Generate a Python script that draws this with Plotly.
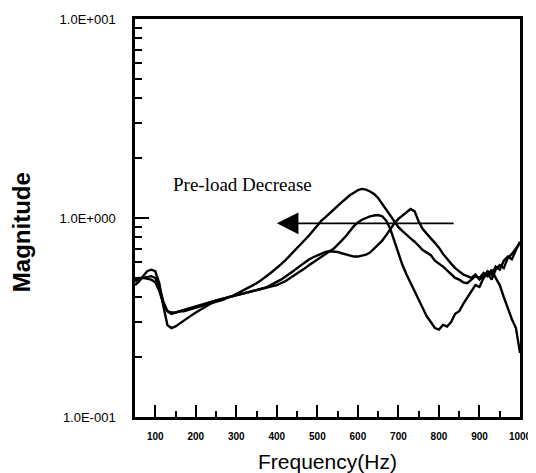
import math
import plotly.graph_objects as go

# Frequency grid (Hz)
freq = list(range(50, 1001, 10))

# Curve with highest peak (~610 Hz)
mag_a = [0.49, 0.50, 0.50, 0.505, 0.51, 0.50, 0.45, 0.38, 0.34, 0.33,
         0.335, 0.34, 0.34, 0.345, 0.35, 0.355, 0.36, 0.365, 0.37, 0.375,
         0.38, 0.385, 0.39, 0.40, 0.405, 0.415, 0.425, 0.435, 0.445, 0.455,
         0.47, 0.485, 0.50, 0.52, 0.54, 0.56, 0.585, 0.61, 0.64, 0.67,
         0.70, 0.74, 0.78, 0.82, 0.87, 0.92, 0.97, 1.01, 1.06, 1.10,
         1.15, 1.20, 1.25, 1.30, 1.34, 1.38, 1.40, 1.39, 1.36, 1.32,
         1.26, 1.18, 1.11, 1.04, 0.97, 0.90, 0.86, 0.82, 0.79, 0.76,
         0.72, 0.69, 0.67, 0.65, 0.61, 0.59, 0.57, 0.545, 0.52, 0.50,
         0.49, 0.475, 0.47, 0.49, 0.51, 0.50, 0.53, 0.51, 0.55, 0.50,
         0.46, 0.40, 0.35, 0.31, 0.28, 0.21]

# Curve with middle peak (~650 Hz), deep minimum near 800 Hz
mag_b = [0.48, 0.495, 0.50, 0.495, 0.49, 0.475, 0.43, 0.37, 0.34, 0.335,
         0.335, 0.34, 0.345, 0.35, 0.355, 0.36, 0.365, 0.37, 0.375, 0.38,
         0.385, 0.39, 0.395, 0.40, 0.405, 0.41, 0.415, 0.42, 0.425, 0.43,
         0.435, 0.44, 0.445, 0.45, 0.455, 0.46, 0.47, 0.48, 0.495, 0.51,
         0.525, 0.54, 0.56, 0.58, 0.60, 0.62, 0.64, 0.66, 0.68, 0.70,
         0.73, 0.77, 0.81, 0.86, 0.91, 0.95, 0.98, 1.00, 1.02, 1.03,
         1.035, 1.02, 0.97, 0.88, 0.76, 0.66, 0.58, 0.52, 0.47, 0.43,
         0.39, 0.35, 0.32, 0.30, 0.28, 0.275, 0.29, 0.285, 0.30, 0.33,
         0.34, 0.37, 0.40, 0.43, 0.46, 0.45, 0.50, 0.53, 0.49, 0.55,
         0.58, 0.56, 0.63, 0.66, 0.70, 0.75]

# Curve with latest peak (~730 Hz)
mag_c = [0.46, 0.48, 0.51, 0.54, 0.55, 0.54, 0.47, 0.36, 0.29, 0.28,
         0.285, 0.295, 0.305, 0.315, 0.325, 0.335, 0.345, 0.355, 0.365, 0.375,
         0.385, 0.39, 0.395, 0.40, 0.405, 0.41, 0.415, 0.42, 0.425, 0.43,
         0.435, 0.44, 0.445, 0.455, 0.465, 0.475, 0.49, 0.505, 0.52, 0.54,
         0.56, 0.58, 0.60, 0.62, 0.635, 0.65, 0.665, 0.675, 0.68, 0.68,
         0.675, 0.665, 0.655, 0.645, 0.64, 0.64, 0.645, 0.655, 0.67, 0.70,
         0.73, 0.77, 0.82, 0.88, 0.94, 0.99, 1.03, 1.07, 1.11, 1.08,
         0.96, 0.88, 0.83, 0.79, 0.75, 0.71, 0.66, 0.62, 0.59, 0.56,
         0.54, 0.52, 0.51, 0.50, 0.52, 0.49, 0.51, 0.54, 0.52, 0.57,
         0.55, 0.61, 0.64, 0.62, 0.69, 0.76]

x_ticks = [100, 200, 300, 400, 500, 600, 700, 800, 900, 1000]
x_tick_labels = ["100", "200", "300", "400", "500", "600", "700", "800", "900", "1000"]
x_minor = [150, 250, 350, 450, 550, 650, 750, 850, 950]
y_ticks = [0.1, 1, 10]
y_tick_labels = ["1.0E-001", "1.0E+000", "1.0E+001"]
y_minor = [0.2, 0.3, 0.4, 0.5, 0.6, 0.7, 0.8, 0.9, 2, 3, 4, 5, 6, 7, 8, 9]

arrow_tail_hz = 840
arrow_head_hz = 400
arrow_level = 0.94
label_hz = 316
label_level = 1.48

fig = go.Figure()
for mags in (mag_a, mag_b, mag_c):
    fig.add_trace(go.Scatter(x=freq, y=mags, mode="lines",
                             line=dict(color="black", width=2.4),
                             hoverinfo="skip"))

fig.add_annotation(x=arrow_head_hz, y=math.log10(arrow_level),
                   ax=arrow_tail_hz, ay=math.log10(arrow_level),
                   xref="x", yref="y", axref="x", ayref="y",
                   text="", showarrow=True, arrowhead=2, arrowsize=2.4,
                   arrowwidth=1.8, arrowcolor="black")
fig.add_annotation(x=label_hz, y=math.log10(label_level), xref="x", yref="y",
                   text="Pre-load Decrease", showarrow=False,
                   font=dict(family="Liberation Serif, Times New Roman, serif",
                             size=19, color="black"))
fig.add_annotation(x=0.5, y=-0.111, xref="paper", yref="paper",
                   text="Frequency(Hz)", showarrow=False, yanchor="middle",
                   font=dict(family="Liberation Sans, Arial, sans-serif",
                             size=21, color="black"))
fig.add_annotation(x=-0.293, y=0.465, xref="paper", yref="paper",
                   text="<b>Magnitude</b>", showarrow=False, textangle=-90,
                   xanchor="center", yanchor="middle",
                   font=dict(family="Liberation Sans, Arial, sans-serif",
                             size=24, color="black"))

# The page body adds an 8px offset, so the figure is sized to compensate.
fig.update_layout(
    width=528, height=465,
    margin=dict(l=127, r=16, t=4, b=56),
    plot_bgcolor="white", paper_bgcolor="white",
    showlegend=False,
    font=dict(family="Liberation Sans, Arial, sans-serif", color="black"),
)
fig.update_xaxes(
    range=[50, 1000], tickmode="array", tickvals=x_ticks, ticktext=x_tick_labels,
    ticks="inside", ticklen=12, tickwidth=2, tickcolor="black",
    minor=dict(tickmode="array", tickvals=x_minor, ticks="inside",
               ticklen=6, tickwidth=2, tickcolor="black", showgrid=False),
    showgrid=False, zeroline=False, showline=True, linewidth=2.5,
    linecolor="black", mirror=True,
    tickfont=dict(size=10, weight="bold", color="black"),
    ticklabelstandoff=8, ticklabeloverflow="allow",
)
fig.update_yaxes(
    type="log", range=[-1, 1], tickmode="array", tickvals=y_ticks,
    ticktext=y_tick_labels,
    ticks="inside", ticklen=14, tickwidth=2, tickcolor="black",
    minor=dict(tickmode="array", tickvals=y_minor, ticks="inside",
               ticklen=7, tickwidth=2, tickcolor="black", showgrid=False),
    showgrid=False, zeroline=False, showline=True, linewidth=2.5,
    linecolor="black", mirror=True,
    tickfont=dict(size=13, color="black"),
    ticklabelstandoff=14, ticklabeloverflow="allow",
)

fig.write_html("out.html")
